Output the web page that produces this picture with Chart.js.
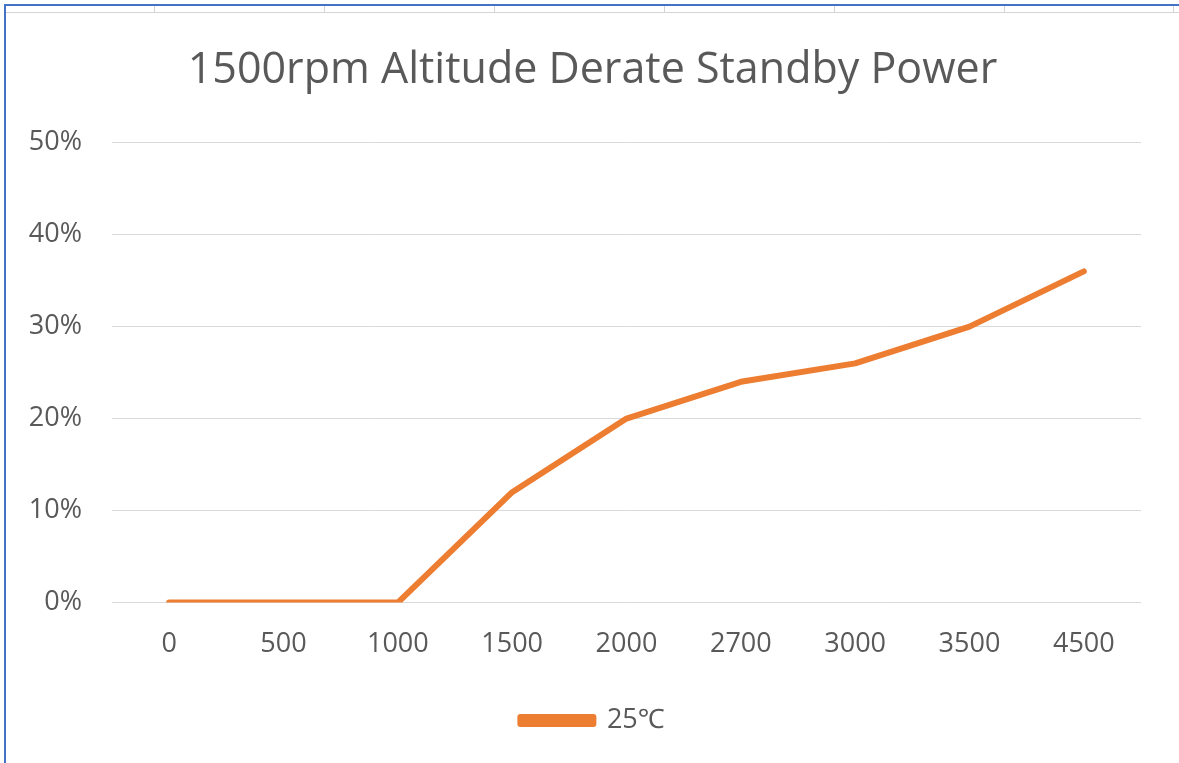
<!DOCTYPE html>
<html>
<head>
<meta charset="utf-8">
<script src="https://cdn.jsdelivr.net/npm/chart.js@4.4.1/dist/chart.umd.min.js"></script>
<style>
  html, body { margin: 0; padding: 0; background: #fff; }
  #wrap { position: relative; width: 1179px; height: 763px; overflow: hidden; }
  #frame { position: absolute; left: 4px; top: 4px; right: 0; bottom: 0;
           border-left: 2px solid #4472C4; border-top: 2px solid #4472C4; }
  #strip { position: absolute; left: 6px; right: 0; top: 12px; height: 1px; background: #d4d4d4; }
  .col { position: absolute; top: 6px; width: 1px; height: 7px; background: #d4d4d4; }
  canvas { position: absolute; left: 0; top: 0; }
</style>
</head>
<body>
<div id="wrap">
  <div id="frame"></div>
  <div id="strip"></div>
  <div class="col" style="left:154px"></div>
  <div class="col" style="left:324px"></div>
  <div class="col" style="left:494px"></div>
  <div class="col" style="left:664px"></div>
  <div class="col" style="left:834px"></div>
  <div class="col" style="left:1004px"></div>
  <div class="col" style="left:1173px"></div>
  <canvas id="myChart" width="1185" height="763"></canvas>
</div>
<script>
// altitude (m) categories and derate values (%)
const altitudes = ["0", "500", "1000", "1500", "2000", "2700", "3000", "3500", "4500"];
const derate25 = [0, 0, 0, 12, 20, 24, 26, 30, 36];
const seriesName = "25℃";
const chartTitle = "1500rpm Altitude Derate Standby Power";

const textGray = "#595959";
const fontFam = "'Open Sans', 'Noto Sans', sans-serif";

const ctx = document.getElementById("myChart");

new Chart(ctx, {
  type: "line",
  data: {
    labels: altitudes,
    datasets: [
      {
        label: seriesName,
        data: derate25,
        borderColor: "#ED7D31",
        backgroundColor: "#ED7D31",
        borderWidth: 6,
        borderCapStyle: "round",
        borderJoinStyle: "round",
        pointRadius: 0,
        tension: 0,
      },
    ],
  },
  options: {
    responsive: false,
    devicePixelRatio: 1,
    animation: false,
    layout: {
      padding: { left: 0, right: 0, top: 0, bottom: 19 },
    },
    scales: {
      x: {
        offset: true,
        grid: { display: false },
        border: { display: false },
        ticks: {
          color: textGray,
          font: { family: fontFam, size: 27 },
          padding: 18,
          maxRotation: 0,
        },
      },
      y: {
        min: 0,
        max: 50,
        grid: { color: "#D9D9D9", lineWidth: 1, drawTicks: false },
        border: { display: false },
        ticks: {
          stepSize: 10,
          color: textGray,
          font: { family: fontFam, size: 27 },
          padding: 30,
          callback: (v) => v + "%",
        },
        afterFit: (scale) => { scale.width = 112; },
      },
      // empty right-hand spacer so title and legend sit off-centre like the original
      spacer: {
        type: "linear",
        position: "right",
        grid: { display: false },
        border: { display: false },
        ticks: { display: false },
        afterFit: (scale) => { scale.width = 44; },
      },
    },
    plugins: {
      title: {
        display: true,
        text: chartTitle,
        color: textGray,
        font: { family: fontFam, size: 43, weight: "normal" },
        padding: { top: 45, bottom: 46 },
      },
      legend: {
        position: "bottom",
        labels: {
          color: textGray,
          font: { family: fontFam, size: 27 },
          boxWidth: 73,
          boxHeight: 7,
          padding: 28,
        },
      },
      tooltip: { enabled: false },
    },
  },
});
</script>
</body>
</html>
